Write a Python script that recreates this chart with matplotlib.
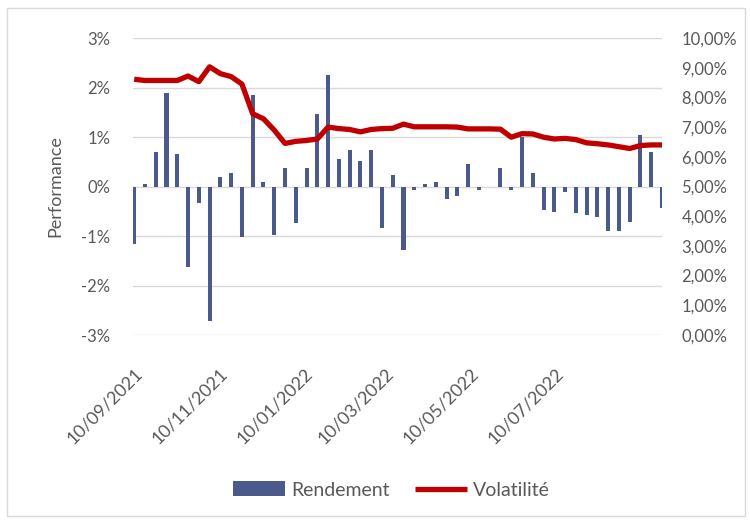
import matplotlib
matplotlib.use('Agg')
import pandas as pd
import matplotlib.pyplot as plt
from matplotlib.ticker import MultipleLocator, FuncFormatter
from matplotlib.patches import Rectangle

plt.rcParams['font.family'] = ['Lato', 'DejaVu Sans']

# rendement periodique (%) et volatilite (%)
rendement = [-1.16, 0.05, 0.70, 1.89, 0.65, -1.62, -0.33, -2.72, 0.20, 0.28,
             -1.03, 1.84, 0.10, -0.98, 0.38, -0.74, 0.38, 1.47, 2.25, 0.56,
             0.74, 0.52, 0.74, -0.84, 0.23, -1.29, -0.07, 0.05, 0.10, -0.25,
             -0.20, 0.46, -0.07, 0.00, 0.38, -0.07, 1.00, 0.28, -0.48, -0.52,
             -0.12, -0.53, -0.57, -0.62, -0.90, -0.90, -0.71, 1.05, 0.70, -0.44]
volatilite = [8.61, 8.57, 8.57, 8.57, 8.57, 8.72, 8.53, 9.03, 8.80, 8.70,
              8.45, 7.45, 7.28, 6.90, 6.45, 6.52, 6.55, 6.60, 7.00, 6.95,
              6.92, 6.84, 6.92, 6.95, 6.96, 7.10, 7.01, 7.01, 7.01, 7.01,
              7.00, 6.94, 6.94, 6.94, 6.93, 6.66, 6.78, 6.77, 6.66, 6.60,
              6.62, 6.58, 6.47, 6.44, 6.40, 6.34, 6.28, 6.38, 6.40, 6.40]
dates = pd.date_range('2021-09-10', '2022-09-25', periods=len(rendement))

tick_dates = pd.to_datetime(['2021-09-10', '2021-11-10', '2022-01-10',
                             '2022-03-10', '2022-05-10', '2022-07-10'])
tick_labels = ['10/09/2021', '10/11/2021', '10/01/2022',
               '10/03/2022', '10/05/2022', '10/07/2022']

grey = '#595959'
bleu = '#4a5a8c'
rouge = '#c00000'

fig = plt.figure(figsize=(7.5, 5.22), dpi=100)
fig.patches.append(Rectangle((7 / 750, 6 / 522), 738 / 750, 508 / 522,
                             transform=fig.transFigure, fill=False,
                             edgecolor='#d9d9d9', lw=1))

ax = fig.add_axes([0.1767, 0.3582, 0.706, 0.569])
bars = ax.bar(dates, rendement, width=2.9, color=bleu, zorder=2, label='Rendement')
ax.set_ylim(-3, 3)
ax.yaxis.set_major_locator(MultipleLocator(1))
ax.yaxis.set_major_formatter(FuncFormatter(lambda v, p: f'{v:.0f}%'))
ax.grid(axis='y', color='#d9d9d9', lw=1)
ax.set_axisbelow(True)
ax.set_xlim(dates[0] - pd.Timedelta(days=1.2), dates[-1])
ax.set_xticks(tick_dates)
ax.set_xticklabels(tick_labels, rotation=45, ha='right', va='top',
                   rotation_mode='anchor')
ax.tick_params(axis='x', length=0, pad=22, labelsize=13, labelcolor=grey)
ax.tick_params(axis='y', length=0, pad=16, labelsize=12, labelcolor=grey)
for s in ax.spines.values():
    s.set_visible(False)

ax2 = ax.twinx()
line, = ax2.plot(dates, volatilite, color=rouge, lw=3.8, label='Volatilité',
                 solid_capstyle='butt')
ax2.set_ylim(0, 10)
ax2.yaxis.set_major_locator(MultipleLocator(1))
ax2.yaxis.set_major_formatter(FuncFormatter(lambda v, p: f'{v:.2f}%'.replace('.', ',')))
ax2.tick_params(axis='y', length=0, pad=14, labelsize=12, labelcolor=grey)
for s in ax2.spines.values():
    s.set_visible(False)

fig.text(55 / 750, 1 - 186 / 522, 'Performance', rotation=90, ha='center',
         va='center', fontsize=13, color=grey)

leg = fig.legend([bars, line], ['Rendement', 'Volatilité'], loc='center',
                 bbox_to_anchor=(0.522, 1 - 490 / 522), ncol=2, frameon=False,
                 fontsize=14, handlelength=2.7, handleheight=0.8,
                 handletextpad=0.3, columnspacing=1.3)
for t in leg.get_texts():
    t.set_color(grey)

fig.savefig('out.png', dpi=100)
